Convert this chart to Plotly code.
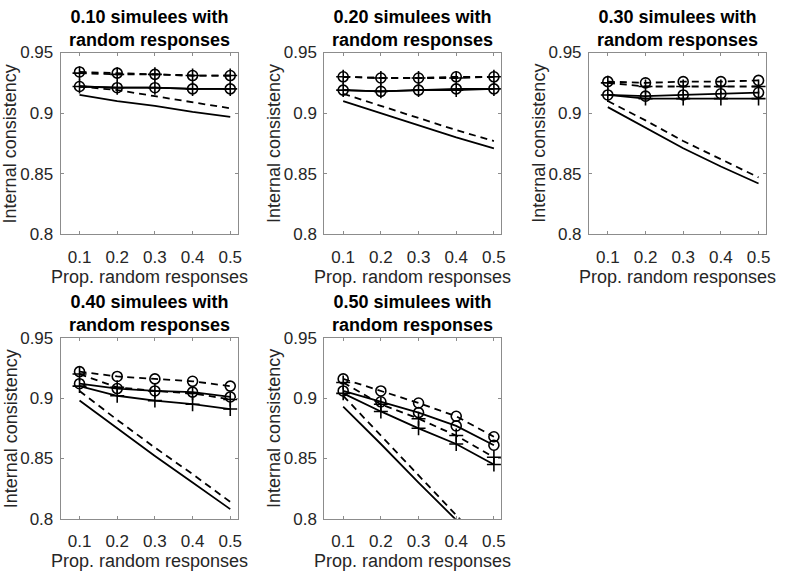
import plotly.graph_objects as go

x_prop = [0.1, 0.2, 0.3, 0.4, 0.5]

panel_titles = [
    "0.10 simulees with<br>random responses",
    "0.20 simulees with<br>random responses",
    "0.30 simulees with<br>random responses",
    "0.40 simulees with<br>random responses",
    "0.50 simulees with<br>random responses",
]

# one row per panel (0.10 ... 0.50 simulees)
circle_dashed = [
    [0.934, 0.933, 0.932, 0.931, 0.931],
    [0.930, 0.929, 0.929, 0.930, 0.930],
    [0.926, 0.925, 0.926, 0.926, 0.927],
    [0.922, 0.918, 0.916, 0.914, 0.910],
    [0.916, 0.906, 0.896, 0.885, 0.868],
]
circle_solid = [
    [0.922, 0.921, 0.921, 0.920, 0.920],
    [0.919, 0.918, 0.919, 0.920, 0.920],
    [0.915, 0.914, 0.915, 0.916, 0.917],
    [0.912, 0.908, 0.906, 0.905, 0.901],
    [0.906, 0.897, 0.888, 0.877, 0.861],
]
plus_dashed = [
    [0.933, 0.932, 0.932, 0.931, 0.931],
    [0.930, 0.929, 0.929, 0.929, 0.930],
    [0.925, 0.922, 0.922, 0.922, 0.922],
    [0.920, 0.909, 0.906, 0.904, 0.899],
    [0.913, 0.895, 0.883, 0.869, 0.851],
]
plus_solid = [
    [0.922, 0.921, 0.921, 0.920, 0.920],
    [0.919, 0.918, 0.919, 0.919, 0.920],
    [0.915, 0.912, 0.912, 0.912, 0.912],
    [0.910, 0.902, 0.898, 0.895, 0.891],
    [0.904, 0.889, 0.875, 0.862, 0.845],
]
plain_dashed = [
    [0.922, 0.919, 0.914, 0.909, 0.904],
    [0.916, 0.906, 0.896, 0.886, 0.877],
    [0.910, 0.894, 0.877, 0.862, 0.847],
    [0.906, 0.882, 0.859, 0.837, 0.814],
    [0.902, 0.869, 0.836, 0.803, 0.770],
]
plain_solid = [
    [0.915, 0.910, 0.906, 0.901, 0.897],
    [0.910, 0.900, 0.890, 0.880, 0.871],
    [0.905, 0.888, 0.871, 0.856, 0.842],
    [0.898, 0.875, 0.852, 0.830, 0.808],
    [0.893, 0.862, 0.830, 0.799, 0.768],
]

y_ticks = [0.8, 0.85, 0.9, 0.95]
y_ticktext = ["0.8", "0.85", "0.9", "0.95"]

W, H = 787, 581
col_px = [(61, 239), (326, 504), (592, 770)]
row_px = [(45, 233), (340, 527)]

FONT = "Liberation Sans, Arial, sans-serif"
TXT = "#262626"
DASH = "7px,5px"


def py(p):
    return 1 - p / H


fig = go.Figure()
annotations = []
layout_axes = {}

series = [
    (circle_dashed, DASH, "circle-open"),
    (circle_solid, "solid", "circle-open"),
    (plus_dashed, DASH, "cross-thin-open"),
    (plus_solid, "solid", "cross-thin-open"),
    (plain_dashed, DASH, None),
    (plain_solid, "solid", None),
]

for i in range(5):
    r, c = divmod(i, 3)
    k = i + 1
    xs = "" if k == 1 else str(k)
    x0, x1 = col_px[c]
    y0, y1 = row_px[r]

    for vals, dash, sym in series:
        tr = dict(
            x=x_prop, y=vals[i],
            xaxis="x" + xs, yaxis="y" + xs,
            line=dict(color="black", width=1.8, dash=dash),
            showlegend=False, hoverinfo="x+y",
        )
        if sym:
            tr["mode"] = "lines+markers"
            tr["marker"] = dict(symbol=sym, size=10, color="black",
                                line=dict(color="black", width=1.6))
        else:
            tr["mode"] = "lines"
        fig.add_trace(go.Scatter(**tr))

    axis_common = dict(
        showline=True, linecolor="#8c8c8c", linewidth=1, mirror="ticks",
        ticks="inside", ticklen=3, tickcolor="#8c8c8c",
        showgrid=False, zeroline=False,
        tickfont=dict(family=FONT, size=17, color=TXT),
    )
    layout_axes["xaxis" + xs] = dict(
        axis_common, domain=[x0 / W, x1 / W], range=[0.05, 0.52],
        tickvals=x_prop, ticktext=["0.1", "0.2", "0.3", "0.4", "0.5"],
        anchor="y" + xs, ticklabelstandoff=7,
    )
    layout_axes["yaxis" + xs] = dict(
        axis_common, domain=[py(y1), py(y0)], range=[0.8, 0.95],
        tickvals=y_ticks, ticktext=y_ticktext, anchor="x" + xs,
        ticklabelstandoff=3,
    )

    cx = (x0 + x1) / 2
    annotations.append(dict(
        text="<b>" + panel_titles[i].replace("<br>", "</b><br><b>") + "</b>",
        x=cx / W, y=py(y0 - 25), xref="paper", yref="paper",
        xanchor="center", yanchor="middle", showarrow=False,
        font=dict(family=FONT, size=18, color="black"),
    ))
    annotations.append(dict(
        text="Prop. random responses",
        x=cx / W, y=py(y1 + 44), xref="paper", yref="paper",
        xanchor="center", yanchor="middle", showarrow=False,
        font=dict(family=FONT, size=18, color=TXT),
    ))
    annotations.append(dict(
        text="Internal consistency", textangle=-90,
        x=(x0 - 50) / W, y=py((y0 + y1) / 2), xref="paper", yref="paper",
        xanchor="center", yanchor="middle", showarrow=False,
        font=dict(family=FONT, size=18, color=TXT),
    ))

fig.update_layout(
    width=W, height=H,
    margin=dict(l=0, r=0, t=0, b=0),
    paper_bgcolor="white", plot_bgcolor="white",
    annotations=annotations,
    **layout_axes,
)

# the page body has a default 8px margin; drop it so the figure sits at (0, 0)
fig.write_html(
    "out.html",
    config={"displayModeBar": False},
    post_script="document.body.style.margin='0';document.body.style.overflow='hidden';",
)
